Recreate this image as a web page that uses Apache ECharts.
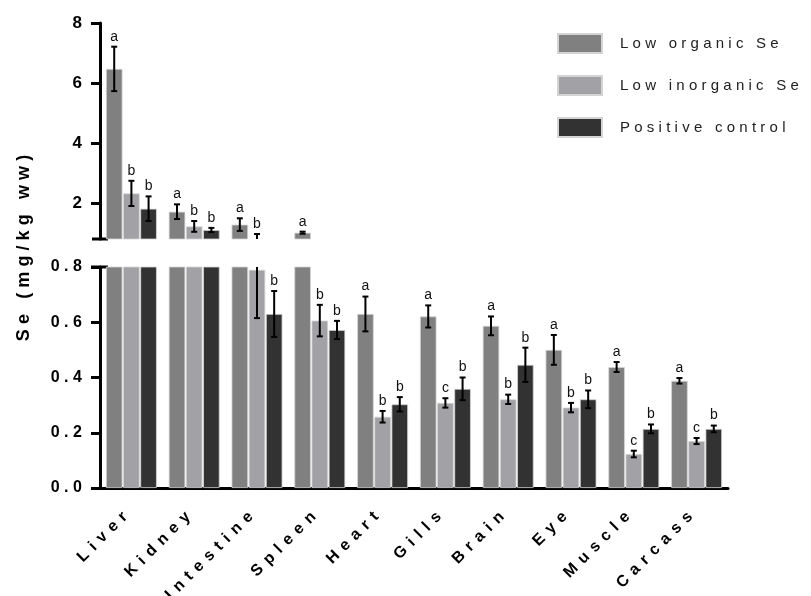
<!DOCTYPE html>
<html>
<head>
<meta charset="utf-8">
<script src="https://cdn.jsdelivr.net/npm/echarts@6.0.0/dist/echarts.min.js"></script>
<style>
  html, body { margin: 0; padding: 0; background: #fff; }
  #main { width: 811px; height: 596px; }
</style>
</head>
<body>
<div id="main"></div>
<script>
var tissues = ['Liver', 'Kidney', 'Intestine', 'Spleen', 'Heart', 'Gills', 'Brain', 'Eye', 'Muscle', 'Carcass'];
var seriesNames = ['Low organic Se', 'Low inorganic Se', 'Positive control'];

var organic = [6.47, 1.71, 1.28, 1.01, 0.630, 0.621, 0.587, 0.500, 0.438, 0.388];
var organicErr = [0.74, 0.245, 0.21, 0.035, 0.063, 0.04, 0.034, 0.054, 0.018, 0.01];
var organicLetters = ['a', 'a', 'a', 'a', 'a', 'a', 'a', 'a', 'a', 'a'];

var inorganic = [2.32, 1.22, 0.79, 0.606, 0.258, 0.308, 0.321, 0.291, 0.123, 0.170];
var inorganicErr = [0.42, 0.18, 0.175, 0.057, 0.021, 0.017, 0.017, 0.017, 0.012, 0.011];
var inorganicLetters = ['b', 'b', 'b', 'b', 'b', 'c', 'b', 'b', 'c', 'c'];

var positive = [1.81, 1.10, 0.630, 0.572, 0.303, 0.359, 0.446, 0.321, 0.214, 0.214];
var positiveErr = [0.41, 0.07, 0.083, 0.033, 0.026, 0.041, 0.062, 0.032, 0.016, 0.012];
var positiveLetters = ['b', 'b', 'b', 'b', 'b', 'b', 'b', 'b', 'b', 'b'];

var upperTicks = [2, 4, 6, 8];

var colors = ['#808080', '#a2a1a6', '#323232'];
var FONT = 'Liberation Sans, Arial, sans-serif';
var THIN = '\u2009', HAIR = '\u200A';
var BREAK = 0.8;
var CAT_GAP = 0.19, BAR_GAP = 0.04;

// letter-spaced text (the original figure uses wide tracking)
function spaced(s, sep) {
    return String(s).split('').join(sep || THIN);
}

var groups = [
    { vals: organic, errs: organicErr, letters: organicLetters },
    { vals: inorganic, errs: inorganicErr, letters: inorganicLetters },
    { vals: positive, errs: positiveErr, letters: positiveLetters }
];

var chartDom = document.getElementById('main');
var myChart = echarts.init(chartDom, null, { renderer: 'canvas' });

var gridL = 100, gridR = 83;
var upper = { top: 23, height: 216 };
var lower = { top: 267, height: 221 };

function errRenderer(gi, isUpper) {
    var g = groups[gi];
    return function (params, api) {
        var idx = api.value(0);
        var v = api.value(1);
        var e = api.value(2);
        var band = api.size([1, 0])[0];
        var usable = band * (1 - CAT_GAP);
        var w = usable / (3 + 2 * BAR_GAP);
        var off = -usable / 2 + w / 2 + gi * w * (1 + BAR_GAP);
        var top = api.coord([idx, v + e]);
        var bot = api.coord([idx, v - e]);
        var x = top[0] + off;
        var cap = 3;
        var children = [
            { type: 'line', shape: { x1: x, y1: top[1], x2: x, y2: bot[1] }, style: { stroke: '#000', lineWidth: 2 } },
            { type: 'line', shape: { x1: x - cap, y1: top[1], x2: x + cap, y2: top[1] }, style: { stroke: '#000', lineWidth: 2 } },
            { type: 'line', shape: { x1: x - cap, y1: bot[1], x2: x + cap, y2: bot[1] }, style: { stroke: '#000', lineWidth: 2 } }
        ];
        var topInUpper = (v + e) > BREAK;
        if (topInUpper === isUpper) {
            children.push({
                type: 'text',
                style: {
                    text: g.letters[params.dataIndex],
                    x: x, y: top[1] - 3,
                    textAlign: 'center', textVerticalAlign: 'bottom',
                    font: '14px ' + FONT, fill: '#111'
                }
            });
        }
        return { type: 'group', children: children };
    };
}

var series = [];
[true, false].forEach(function (isUpper) {
    var ai = isUpper ? 0 : 1;
    groups.forEach(function (g, gi) {
        series.push({
            name: seriesNames[gi],
            type: 'bar',
            xAxisIndex: ai, yAxisIndex: ai,
            data: g.vals,
            barCategoryGap: (CAT_GAP * 100) + '%',
            barGap: (BAR_GAP * 100) + '%',
            itemStyle: { color: colors[gi], borderColor: '#d4d4d4', borderWidth: 0.8 },
            emphasis: { disabled: true },
            clip: true
        });
    });
    groups.forEach(function (g, gi) {
        series.push({
            type: 'custom',
            xAxisIndex: ai, yAxisIndex: ai,
            clip: true,
            z: 10,
            renderItem: errRenderer(gi, isUpper),
            data: g.vals.map(function (v, i) { return [i, v, g.errs[i]]; })
        });
    });
});

var axisLineStyle = { color: '#000', width: 3 };

var option = {
    animation: false,
    textStyle: { fontFamily: FONT },
    legend: {
        orient: 'vertical',
        left: 552, top: 28,
        itemWidth: 44, itemHeight: 19, itemGap: 21,
        icon: 'rect',
        data: seriesNames,
        formatter: function (n) { return spaced(n, THIN + HAIR); },
        textStyle: { fontSize: 15, color: '#222', fontFamily: FONT, padding: [0, 0, 0, 13] }
    },
    grid: [
        { left: gridL, right: gridR, top: upper.top, height: upper.height, outerBoundsMode: 'none' },
        { left: gridL, right: gridR, top: lower.top, height: lower.height, outerBoundsMode: 'none' }
    ],
    xAxis: [
        { type: 'category', gridIndex: 0, data: tissues, show: false },
        {
            type: 'category', gridIndex: 1, data: tissues,
            axisLine: { lineStyle: axisLineStyle },
            axisTick: { alignWithLabel: true, length: 9, lineStyle: { width: 3, color: '#000' } },
            axisLabel: {
                rotate: 45, margin: 20, padding: [0, 9, 0, 0],
                fontSize: 16, fontWeight: 'bold', color: '#000', fontFamily: FONT,
                formatter: function (v) { return spaced(v, THIN + THIN); }
            }
        }
    ],
    yAxis: [
        {
            type: 'value', gridIndex: 0, min: BREAK, max: 8,
            splitLine: { show: false },
            axisLine: { show: true, lineStyle: axisLineStyle },
            axisTick: { show: true, length: 9, customValues: upperTicks, lineStyle: { width: 3, color: '#000' } },
            axisLabel: {
                customValues: upperTicks, margin: 18,
                fontSize: 17, fontWeight: 'bold', color: '#000', fontFamily: FONT
            }
        },
        {
            type: 'value', gridIndex: 1, min: 0, max: BREAK, interval: 0.2,
            splitLine: { show: false },
            axisLine: { show: true, lineStyle: axisLineStyle },
            axisTick: { show: true, length: 9, lineStyle: { width: 3, color: '#000' } },
            axisLabel: {
                margin: 18,
                fontSize: 16, fontWeight: 'bold', color: '#000', fontFamily: FONT,
                formatter: function (v) { return spaced(v.toFixed(1), THIN + HAIR); }
            }
        }
    ],
    graphic: [
        {
            type: 'text', x: 24, y: 248, rotation: Math.PI / 2,
            style: {
                text: spaced('Se (mg/kg ww)', THIN + HAIR),
                font: 'bold 18px ' + FONT, fill: '#000',
                textAlign: 'center', textVerticalAlign: 'middle'
            }
        },
        {
            type: 'line',
            shape: { x1: gridL - 8, y1: upper.top + upper.height, x2: gridL + 8, y2: upper.top + upper.height },
            style: { stroke: '#000', lineWidth: 3 }
        },
        {
            type: 'line',
            shape: { x1: gridL - 9, y1: lower.top, x2: gridL + 8, y2: lower.top },
            style: { stroke: '#000', lineWidth: 3 }
        }
    ],
    series: series
};

option && myChart.setOption(option);
</script>
</body>
</html>
